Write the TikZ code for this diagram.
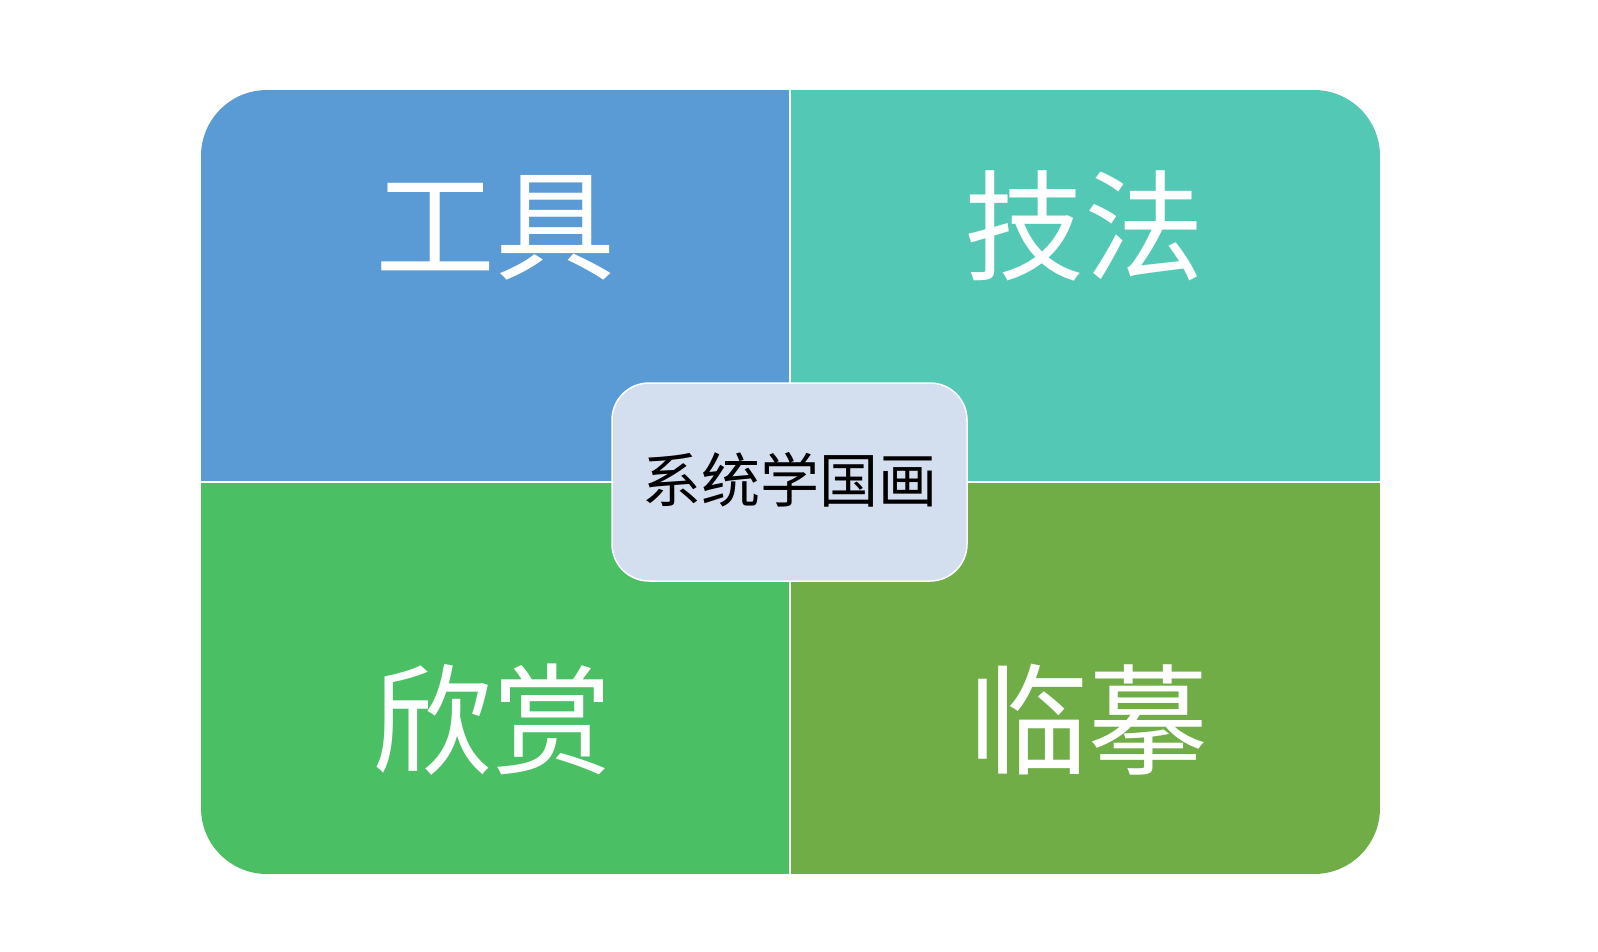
\documentclass[tikz,border=0pt]{standalone}
\usepackage{fontspec}
\newfontfamily\cjk{Noto Sans CJK SC}
\definecolor{qblue}{HTML}{5B9BD5}
\definecolor{qteal}{HTML}{53C9B5}
\definecolor{qgreen}{HTML}{4ABF63}
\definecolor{qolive}{HTML}{70AD47}
\definecolor{cfill}{HTML}{D3DEEF}
\tikzset{
  biglabel/.style={text=white,font=\cjk\fontsize{120}{122}\selectfont,inner sep=0pt},
  centerbox/.style={draw=white,line width=1.5pt,fill=cfill,rounded corners=37pt,
    minimum width=355pt,minimum height=198pt,inner sep=0pt},
  centertext/.style={font=\cjk\fontsize{59}{60}\selectfont,text=black,inner sep=0pt},
  divider/.style={draw=white,line width=2pt}
}
\begin{document}
\begin{tikzpicture}[x=1pt,y=-1pt]
\useasboundingbox (0,0) rectangle (1598,951);
\fill[white] (0,0) rectangle (1598,951);
\begin{scope}
  \clip[rounded corners=66pt] (201,90) rectangle (1380,874);
  \fill[qblue] (201,90) rectangle (790,482);
  \fill[qteal] (790,90) rectangle (1380,482);
  \fill[qgreen] (201,482) rectangle (790,874);
  \fill[qolive] (790,482) rectangle (1380,874);
\end{scope}
\coordinate (vt) at (790,90);
\coordinate (vb) at (790,874);
\coordinate (hl) at (201,482);
\coordinate (hr) at (1380,482);
\draw[divider] (vt) -- (vb);
\draw[divider] (hl) -- (hr);
\node[biglabel] (tools) at (495,228) {工具};
\node[biglabel] (tech) at (1084,226) {技法};
\node[biglabel] (appr) at (492,720) {欣赏};
\node[biglabel] (copy) at (1088,720) {临摹};
\node[centerbox] (center) at (789.5,482) {};
\node[centertext] (centerlabel) at (789.5,480) {系统学国画};
\end{tikzpicture}
\end{document}
